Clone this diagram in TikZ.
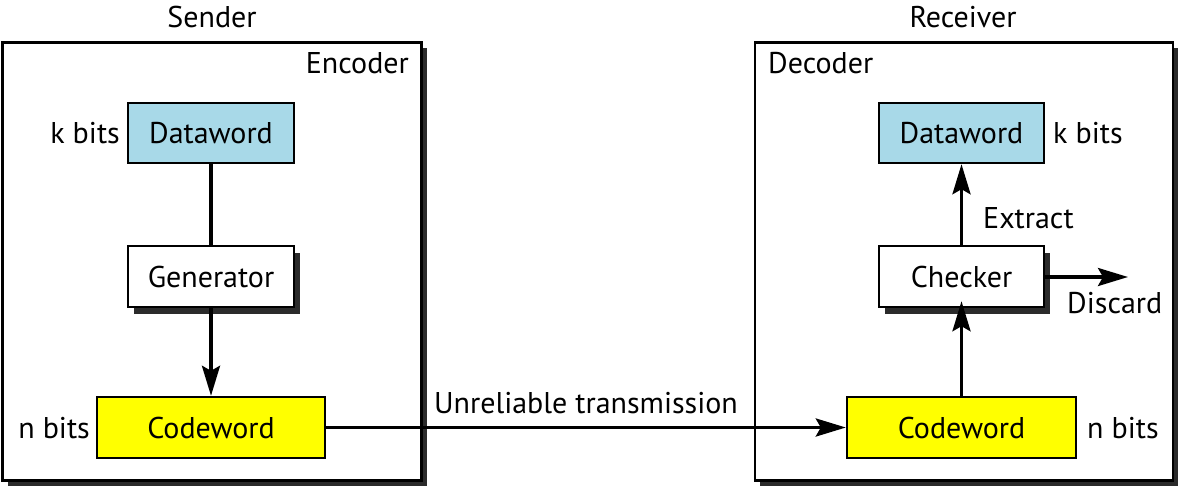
\documentclass[tikz,border=0pt]{standalone}
\usepackage{fontspec}
\setmainfont{PT Sans}
\usetikzlibrary{arrows.meta,shadows}
\definecolor{dwblue}{HTML}{A8D9E8}
\definecolor{cwyellow}{HTML}{FFFF00}
\definecolor{shadowgray}{HTML}{2B2B2B}
\begin{document}
\begin{tikzpicture}[x=1pt,y=-1pt,
  every node/.style={font=\fontsize{30}{34}\selectfont, inner sep=0pt},
  outerbox/.style={draw=black, line width=2.6pt, fill=white,
    drop shadow={shadow xshift=5pt, shadow yshift=-5pt, fill=shadowgray, opacity=1}},
  blk/.style={draw=black, line width=2.4pt, minimum height=60pt},
  shbox/.style={blk, fill=white,
    drop shadow={shadow xshift=6pt, shadow yshift=-7pt, fill=shadowgray, opacity=1}},
  conn/.style={line width=3.4pt},
  arr/.style={line width=3.4pt, -{Stealth[length=30pt,width=18pt,inset=5pt]}},
  lbl/.style={font=\fontsize{30}{34}\selectfont}
]
\useasboundingbox (0,0) rectangle (1183,493);
\fill[white] (0,0) rectangle (1183,493);

% outer boxes
\node[outerbox, minimum width=419pt, minimum height=438pt] (enc) at (212,261.5) {};
\node[outerbox, minimum width=418pt, minimum height=438pt] (dec) at (964,261.5) {};
\node[lbl] (sender) at (212,17) {Sender};
\node[lbl] (receiver) at (963,17) {Receiver};
\node[lbl, anchor=east] (enclbl) at (409,63) {Encoder};
\node[lbl, anchor=west] (declbl) at (768,63) {Decoder};

% sender blocks
\node[blk, fill=dwblue, minimum width=166pt] (dl) at (211,133) {Dataword};
\node[shbox, minimum width=166pt, minimum height=61pt] (gen) at (211,276.5) {Generator};
\node[blk, fill=cwyellow, minimum width=228pt, minimum height=61pt] (cl) at (211,427.5) {Codeword};
\node[lbl, anchor=east] (kl) at (120,133) {k bits};
\node[lbl, anchor=east] (nl) at (90,428) {n bits};

% receiver blocks
\node[blk, fill=dwblue, minimum width=165pt] (dr) at (961.5,133) {Dataword};
\node[shbox, minimum width=165pt, minimum height=61pt] (chk) at (961.5,276.5) {Checker};
\node[blk, fill=cwyellow, minimum width=229pt, minimum height=61pt] (cr) at (961.5,427.5) {Codeword};
\node[lbl, anchor=west] (kr) at (1053,133) {k bits};
\node[lbl, anchor=west] (nr) at (1087,428) {n bits};
\node[lbl, anchor=west] (extract) at (983,218) {Extract};
\node[lbl, anchor=west] (discard) at (1067,303) {Discard};
\coordinate (dis) at (1128,277);

% connectors
\draw[conn] (dl.south) -- (gen.north);
\draw[arr] (gen.south) -- (cl.north);
\draw[arr] (chk.north) -- (dr.south);
\draw[arr] (cr.north) -- ([yshift=7pt]chk.south);
\draw[arr] (chk.east |- dis) -- (dis);
\draw[arr] (cl.east) -- node[lbl, above=12pt] (tx) {Unreliable transmission} (cr.west);
\end{tikzpicture}
\end{document}
